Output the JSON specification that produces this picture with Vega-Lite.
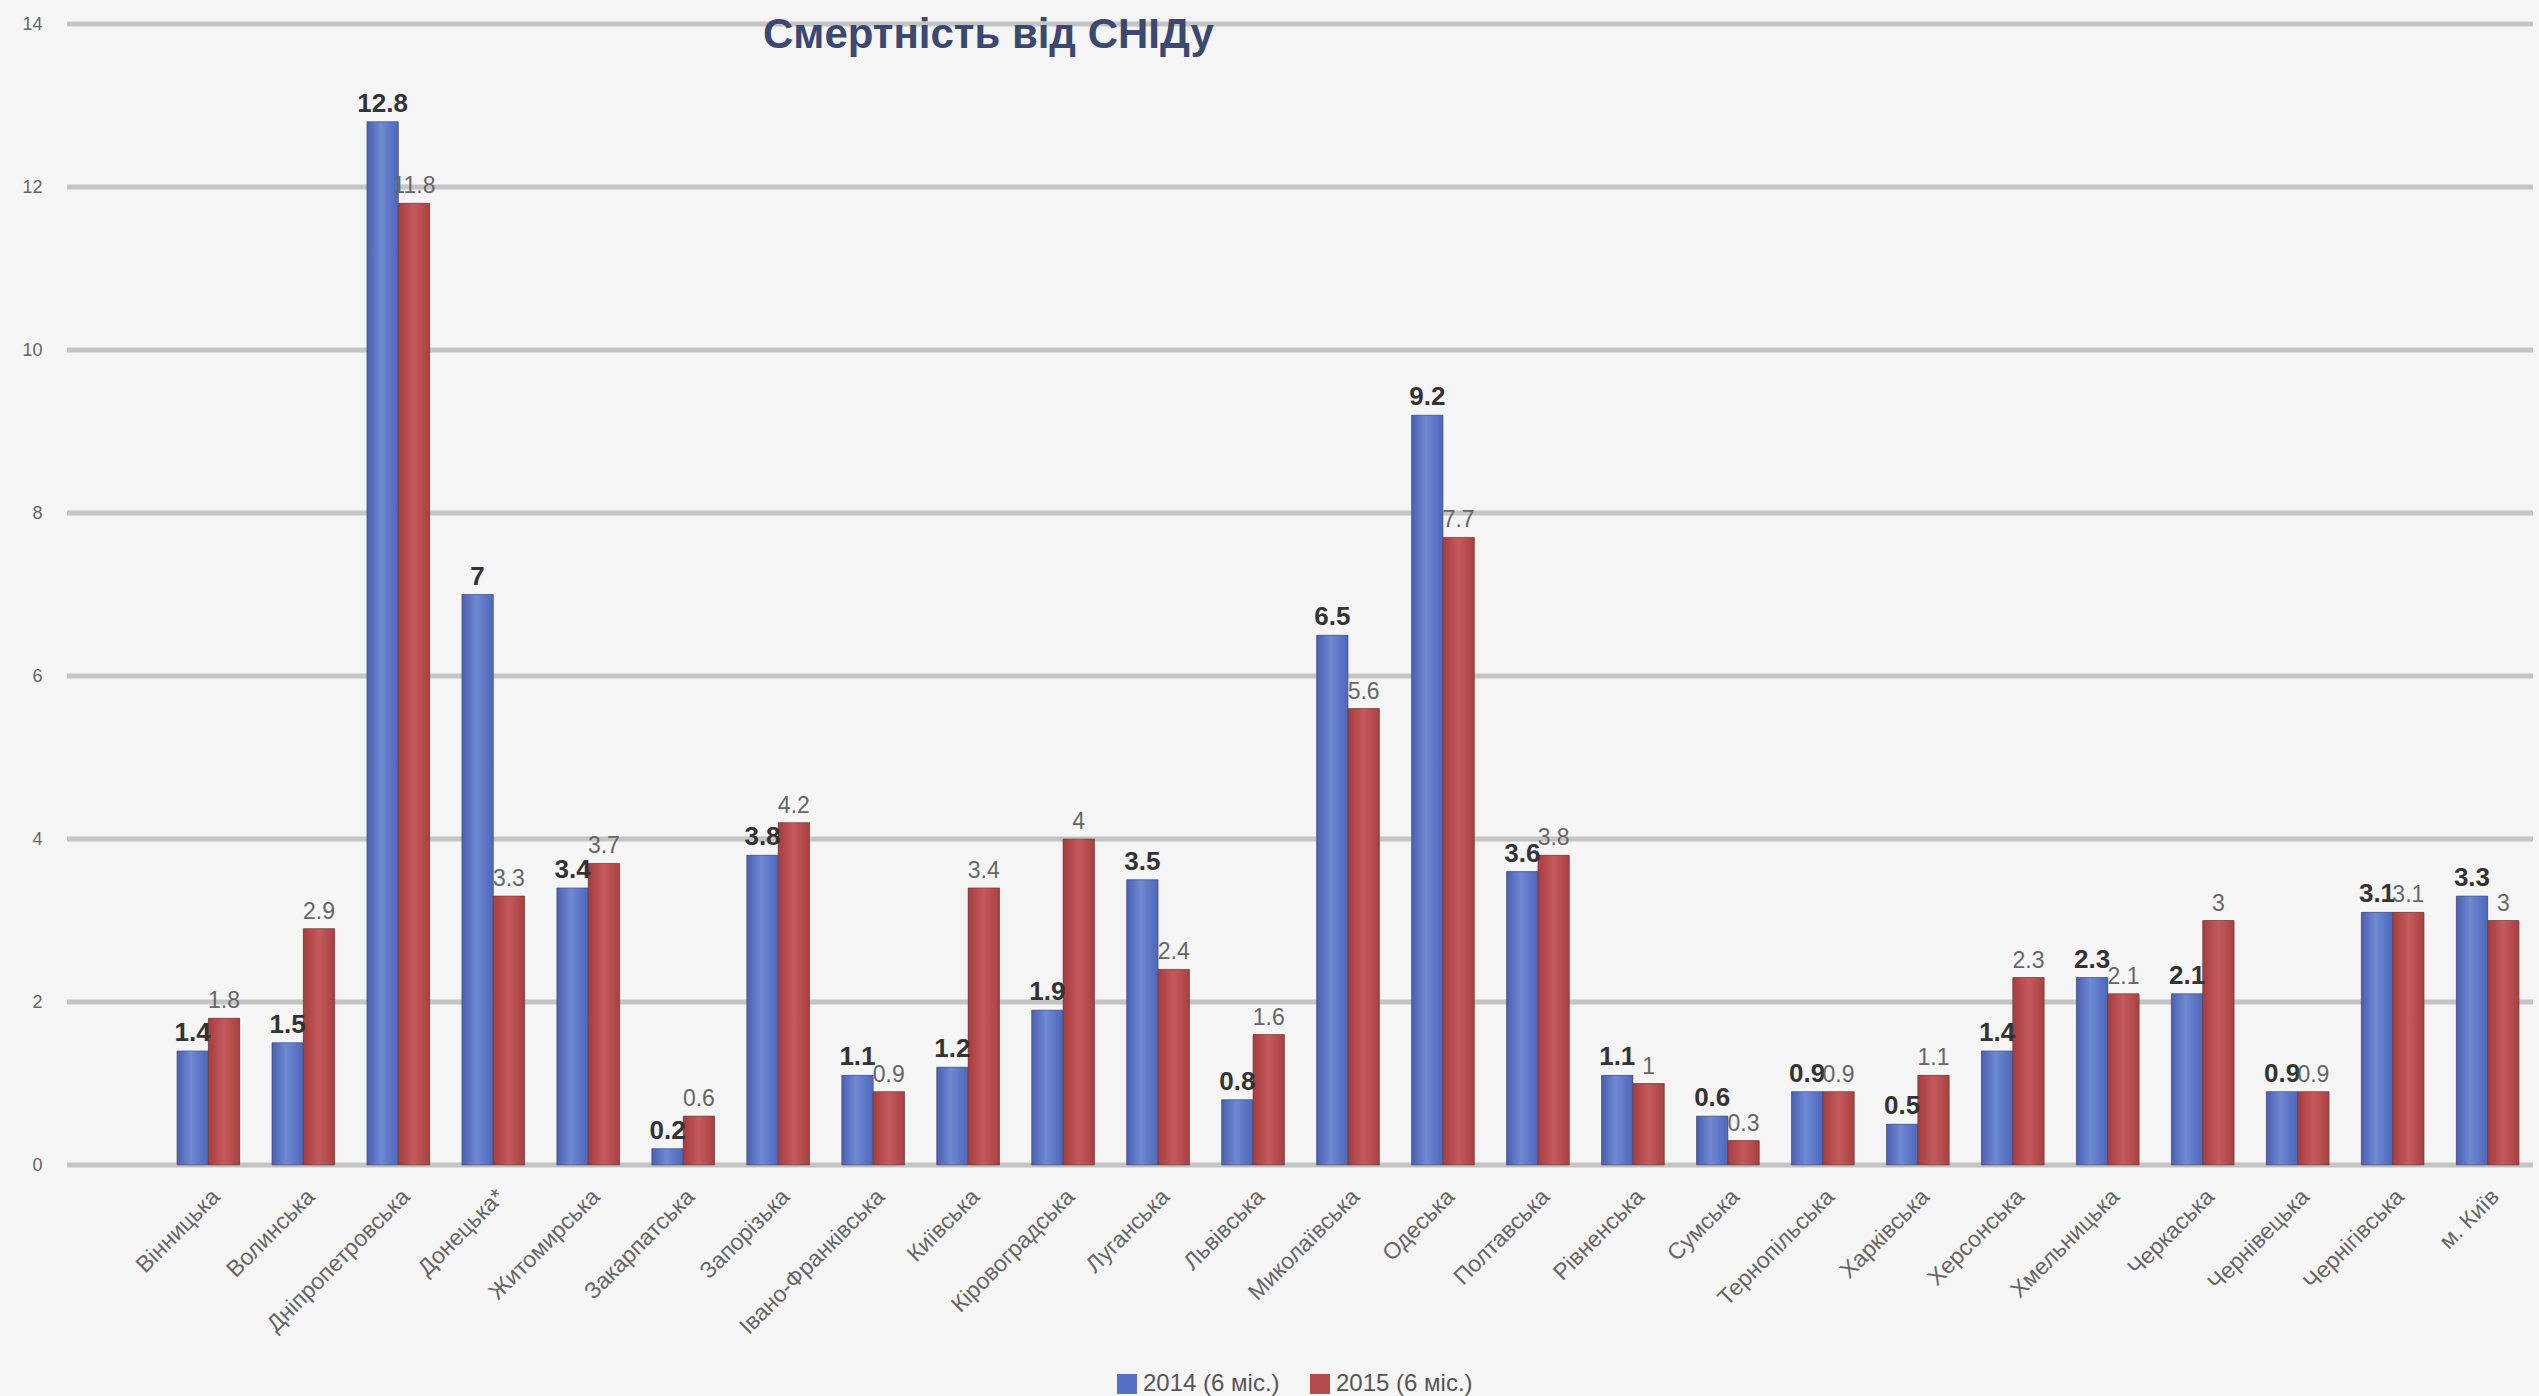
{
  "$schema": "https://vega.github.io/schema/vega-lite/v6.json",
  "description": "Смертність від СНІДу, 2014 vs 2015 (6 міс.)",
  "width": 2466,
  "height": 1141,
  "autosize": {"type": "none"},
  "padding": {"left": 67, "top": 24, "right": 6, "bottom": 231},
  "background": "#f5f5f5",
  "title": {
    "text": "Смертність від СНІДу",
    "anchor": "start",
    "frame": "group",
    "dx": 696,
    "dy": 75,
    "offset": 0,
    "baseline": "alphabetic",
    "font": "Liberation Sans",
    "fontSize": 42,
    "fontWeight": "bold",
    "color": "#3b4870"
  },
  "config": {
    "view": {"stroke": null},
    "font": "Liberation Sans"
  },
  "layer": [
    {
      "data": {"values": [{"tick": 0}, {"tick": 2}, {"tick": 4}, {"tick": 6}, {"tick": 8}, {"tick": 10}, {"tick": 12}, {"tick": 14}]},
      "mark": {"type": "rule", "color": "#c4c4c4", "strokeWidth": 5},
      "encoding": {
        "y": {
          "field": "tick",
          "type": "quantitative",
          "title": null,
          "scale": {"domain": [0, 14], "nice": false},
          "axis": {
            "values": [0, 2, 4, 6, 8, 10, 12, 14],
            "labelFontSize": 18,
            "labelColor": "#666666",
            "labelPadding": 25,
            "ticks": false,
            "domain": false,
            "grid": false
          }
        }
      }
    },
    {
      "data": {
        "values": [
          {"region": "Вінницька", "series": "2014 (6 міс.)", "value": 1.4},
          {"region": "Вінницька", "series": "2015 (6 міс.)", "value": 1.8},
          {"region": "Волинська", "series": "2014 (6 міс.)", "value": 1.5},
          {"region": "Волинська", "series": "2015 (6 міс.)", "value": 2.9},
          {"region": "Дніпропетровська", "series": "2014 (6 міс.)", "value": 12.8},
          {"region": "Дніпропетровська", "series": "2015 (6 міс.)", "value": 11.8},
          {"region": "Донецька*", "series": "2014 (6 міс.)", "value": 7},
          {"region": "Донецька*", "series": "2015 (6 міс.)", "value": 3.3},
          {"region": "Житомирська", "series": "2014 (6 міс.)", "value": 3.4},
          {"region": "Житомирська", "series": "2015 (6 міс.)", "value": 3.7},
          {"region": "Закарпатська", "series": "2014 (6 міс.)", "value": 0.2},
          {"region": "Закарпатська", "series": "2015 (6 міс.)", "value": 0.6},
          {"region": "Запорізька", "series": "2014 (6 міс.)", "value": 3.8},
          {"region": "Запорізька", "series": "2015 (6 міс.)", "value": 4.2},
          {"region": "Івано-Франківська", "series": "2014 (6 міс.)", "value": 1.1},
          {"region": "Івано-Франківська", "series": "2015 (6 міс.)", "value": 0.9},
          {"region": "Київська", "series": "2014 (6 міс.)", "value": 1.2},
          {"region": "Київська", "series": "2015 (6 міс.)", "value": 3.4},
          {"region": "Кіровоградська", "series": "2014 (6 міс.)", "value": 1.9},
          {"region": "Кіровоградська", "series": "2015 (6 міс.)", "value": 4},
          {"region": "Луганська", "series": "2014 (6 міс.)", "value": 3.5},
          {"region": "Луганська", "series": "2015 (6 міс.)", "value": 2.4},
          {"region": "Львівська", "series": "2014 (6 міс.)", "value": 0.8},
          {"region": "Львівська", "series": "2015 (6 міс.)", "value": 1.6},
          {"region": "Миколаївська", "series": "2014 (6 міс.)", "value": 6.5},
          {"region": "Миколаївська", "series": "2015 (6 міс.)", "value": 5.6},
          {"region": "Одеська", "series": "2014 (6 міс.)", "value": 9.2},
          {"region": "Одеська", "series": "2015 (6 міс.)", "value": 7.7},
          {"region": "Полтавська", "series": "2014 (6 міс.)", "value": 3.6},
          {"region": "Полтавська", "series": "2015 (6 міс.)", "value": 3.8},
          {"region": "Рівненська", "series": "2014 (6 міс.)", "value": 1.1},
          {"region": "Рівненська", "series": "2015 (6 міс.)", "value": 1},
          {"region": "Сумська", "series": "2014 (6 міс.)", "value": 0.6},
          {"region": "Сумська", "series": "2015 (6 міс.)", "value": 0.3},
          {"region": "Тернопільська", "series": "2014 (6 міс.)", "value": 0.9},
          {"region": "Тернопільська", "series": "2015 (6 міс.)", "value": 0.9},
          {"region": "Харківська", "series": "2014 (6 міс.)", "value": 0.5},
          {"region": "Харківська", "series": "2015 (6 міс.)", "value": 1.1},
          {"region": "Херсонська", "series": "2014 (6 міс.)", "value": 1.4},
          {"region": "Херсонська", "series": "2015 (6 міс.)", "value": 2.3},
          {"region": "Хмельницька", "series": "2014 (6 міс.)", "value": 2.3},
          {"region": "Хмельницька", "series": "2015 (6 міс.)", "value": 2.1},
          {"region": "Черкаська", "series": "2014 (6 міс.)", "value": 2.1},
          {"region": "Черкаська", "series": "2015 (6 міс.)", "value": 3},
          {"region": "Чернівецька", "series": "2014 (6 міс.)", "value": 0.9},
          {"region": "Чернівецька", "series": "2015 (6 міс.)", "value": 0.9},
          {"region": "Чернігівська", "series": "2014 (6 міс.)", "value": 3.1},
          {"region": "Чернігівська", "series": "2015 (6 міс.)", "value": 3.1},
          {"region": "м. Київ", "series": "2014 (6 міс.)", "value": 3.3},
          {"region": "м. Київ", "series": "2015 (6 міс.)", "value": 3}
        ]
      },
      "encoding": {
        "x": {
          "field": "region",
          "type": "nominal",
          "sort": null,
          "title": null,
          "scale": {"range": [110, 2452], "paddingInner": 0.34, "paddingOuter": 0},
          "axis": {
            "labelAngle": -45,
            "labelFontSize": 23,
            "labelColor": "#666666",
            "labelPadding": 20,
            "labelLimit": 0,
            "ticks": false,
            "domain": false,
            "grid": false
          }
        },
        "xOffset": {
          "field": "series",
          "type": "nominal",
          "scale": {"domain": ["2014 (6 міс.)", "2015 (6 міс.)"], "paddingInner": 0}
        },
        "y": {
          "field": "value",
          "type": "quantitative",
          "title": null,
          "scale": {"domain": [0, 14], "nice": false},
          "axis": {
            "values": [0, 2, 4, 6, 8, 10, 12, 14],
            "labelFontSize": 18,
            "labelColor": "#666666",
            "labelPadding": 25,
            "ticks": false,
            "domain": false,
            "grid": false
          }
        }
      },
      "layer": [
        {
          "mark": {"type": "bar"},
          "encoding": {
            "color": {
              "field": "series",
              "type": "nominal",
              "scale": {"domain": ["2014 (6 міс.)", "2015 (6 міс.)"], "range": ["#5570c4", "#b54a4c"]},
              "legend": {
                "title": null,
                "orient": "none",
                "legendX": 1048,
                "legendY": 1348,
                "direction": "horizontal",
                "symbolType": "square",
                "symbolSize": 400,
                "symbolStrokeWidth": 0,
                "labelFontSize": 24,
                "labelColor": "#555555",
                "columnPadding": 28
              }
            }
          }
        },
        {
          "transform": [{"filter": "datum.series === '2014 (6 міс.)'"}],
          "mark": {
            "type": "bar",
            "stroke": "#4a4f66",
            "strokeWidth": 1,
            "strokeOpacity": 0.6,
            "fill": {
              "gradient": "linear",
              "x1": 0, "y1": 0, "x2": 1, "y2": 0,
              "stops": [
                {"offset": 0, "color": "#4a5fb0"},
                {"offset": 0.45, "color": "#6f89d3"},
                {"offset": 1, "color": "#4c66bb"}
              ]
            }
          }
        },
        {
          "transform": [{"filter": "datum.series === '2015 (6 міс.)'"}],
          "mark": {
            "type": "bar",
            "stroke": "#5a4444",
            "strokeWidth": 1,
            "strokeOpacity": 0.6,
            "fill": {
              "gradient": "linear",
              "x1": 0, "y1": 0, "x2": 1, "y2": 0,
              "stops": [
                {"offset": 0, "color": "#a63c3e"},
                {"offset": 0.5, "color": "#c55a5c"},
                {"offset": 1, "color": "#a84040"}
              ]
            }
          }
        },
        {
          "transform": [{"filter": "datum.series === '2014 (6 міс.)'"}],
          "mark": {
            "type": "text",
            "baseline": "bottom",
            "dy": -5,
            "fontSize": 26,
            "fontWeight": "bold",
            "color": "#333333"
          },
          "encoding": {"text": {"field": "value", "type": "quantitative"}}
        },
        {
          "transform": [{"filter": "datum.series === '2015 (6 міс.)'"}],
          "mark": {
            "type": "text",
            "baseline": "bottom",
            "dy": -5,
            "fontSize": 23,
            "color": "#666666"
          },
          "encoding": {"text": {"field": "value", "type": "quantitative"}}
        }
      ]
    }
  ]
}
